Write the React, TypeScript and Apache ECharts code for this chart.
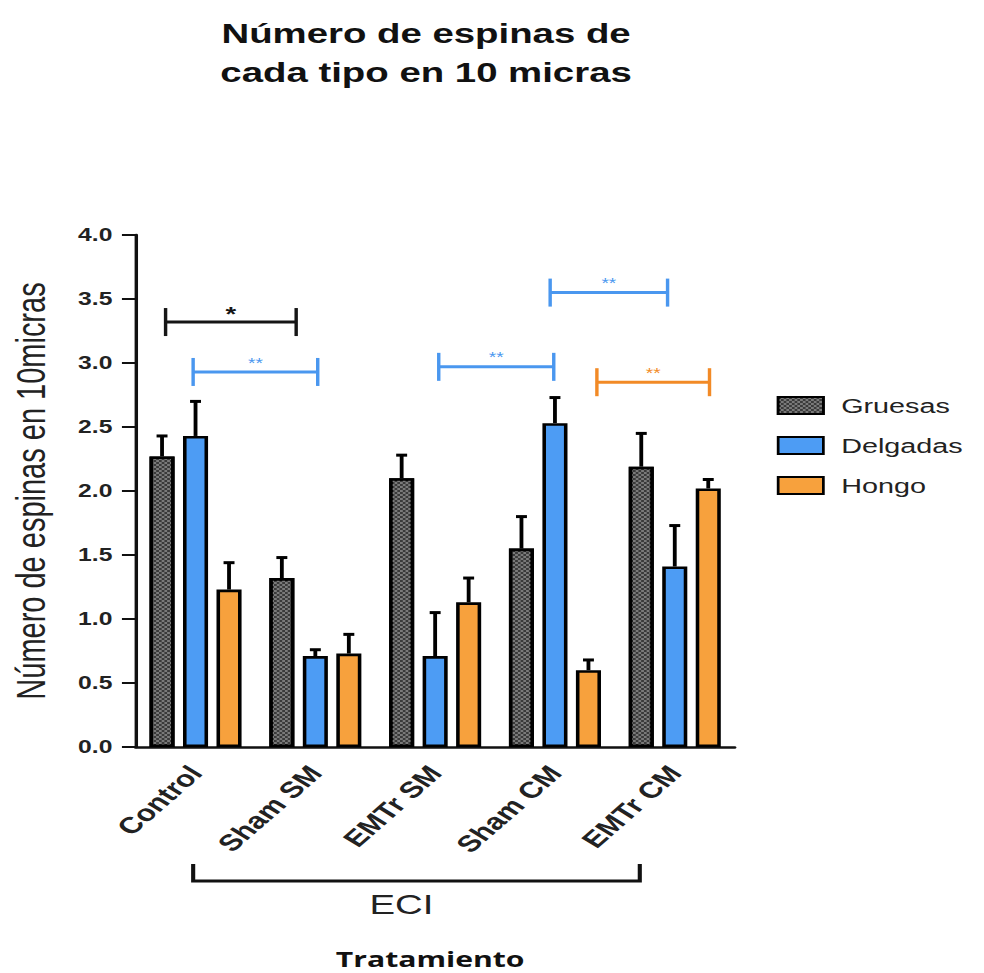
import React, { useEffect, useRef } from "react";
import * as echarts from "echarts";

// Mean number of spines per 10 µm, by spine type and treatment group
const categories = ["Control", "Sham SM", "EMTr SM", "Sham CM", "EMTr CM"];
const seriesNames = ["Gruesas", "Delgadas", "Hongo"];
const gruesas = [2.27, 1.32, 2.1, 1.55, 2.19];
const gruesasSem = [0.16, 0.16, 0.18, 0.25, 0.26];
const delgadas = [2.43, 0.71, 0.71, 2.53, 1.41];
const delgadasSem = [0.27, 0.05, 0.34, 0.2, 0.32];
const hongo = [1.23, 0.73, 1.13, 0.6, 2.02];
const hongoSem = [0.21, 0.15, 0.19, 0.08, 0.07];

// Significance brackets: ends in category units, height in axis units
const bracketFrom = [-0.25, -0.02, 2.03, 2.96, 3.35];
const bracketTo = [0.84, 1.02, 2.99, 3.94, 4.29];
const bracketY = [3.32, 2.93, 2.97, 3.55, 2.85];
const bracketMark = ["*", "**", "**", "**", "**"];
const bracketKind = [0, 1, 1, 1, 2];

const FONT = '"Liberation Sans", Arial, Helvetica, sans-serif';
const STRETCH = 1.37;
const CHART_W = 984 / STRETCH;
const CHART_H = 973;

const fills = ["#3a3a3a", "#4d9cf4", "#f7a13d"];
const bracketColors = ["#161616", "#4a97ef", "#f28a26"];

// bar border is drawn inside the bar, so BAR_W is the full visual width
const BAR_W = 18.3;
const BAR_GAP = 0.336;
const BAR_STEP = BAR_W * (1 + BAR_GAP);

function errorSeries(values: number[], sems: number[], k: number) {
  return {
    type: "custom",
    z: 5,
    silent: true,
    data: values.map((v, i) => [i, v, sems[i]]),
    encode: { x: 0, y: 1 },
    renderItem: (params: any, api: any) => {
      const idx = api.value(0);
      const v = api.value(1);
      const e = api.value(2);
      const base = api.coord([idx, v]);
      const top = api.coord([idx, v + e]);
      const x = base[0] + (k - 1) * BAR_STEP;
      return {
        type: "group",
        children: [
          {
            type: "line",
            shape: { x1: x, y1: base[1], x2: x, y2: top[1] },
            style: { stroke: "#000", lineWidth: 2.8 },
          },
          {
            type: "line",
            shape: { x1: x - 4, y1: top[1], x2: x + 4, y2: top[1] },
            style: { stroke: "#000", lineWidth: 3 },
          },
        ],
      };
    },
  };
}

function barSeries(name: string, values: number[], k: number) {
  const itemStyle: any = {
    color: fills[k],
    borderColor: "#000",
    borderWidth: 2.6,
  };
  if (k === 0) {
    itemStyle.decal = {
      symbol: "rect",
      symbolSize: 1,
      color: "#7a7a7a",
      dashArrayX: [
        [2, 2],
        [0, 2, 2, 0],
      ],
      dashArrayY: [2, 0],
    };
  }
  return {
    name,
    type: "bar",
    data: values,
    barWidth: BAR_W,
    barGap: BAR_GAP * 100 + "%",
    itemStyle,
    emphasis: { disabled: true },
  };
}

export default function App() {
  const ref = useRef<HTMLDivElement>(null);

  useEffect(() => {
    if (!ref.current) return;
    const chart = echarts.init(ref.current, undefined, { renderer: "svg" });

    const option: any = {
      animation: false,
      backgroundColor: "#ffffff",
      textStyle: { fontFamily: FONT },
      grid: {
        left: 92.7,
        right: CHART_W - 536.5,
        top: 235,
        bottom: CHART_H - 747,
        containLabel: false,
      },
      legend: {
        orient: "vertical",
        left: 562,
        top: 390,
        itemWidth: 33,
        itemHeight: 17,
        itemGap: 19,
        icon: "rect",
        selectedMode: false,
        data: seriesNames,
        textStyle: {
          fontFamily: FONT,
          fontSize: 21,
          color: "#222",
          padding: [0, 0, 0, 8],
        },
      },
      xAxis: {
        type: "category",
        data: categories,
        axisLine: { lineStyle: { color: "#111", width: 2.5 } },
        axisTick: {
          alignWithLabel: true,
          length: 8,
          lineStyle: { color: "#111", width: 2 },
        },
        axisLabel: {
          interval: 0,
          rotate: 50,
          margin: 22,
          fontFamily: FONT,
          fontWeight: "bold",
          fontSize: 23,
          color: "#222",
        },
      },
      yAxis: {
        type: "value",
        min: 0,
        max: 4,
        interval: 0.5,
        name: "Número de espinas en 10micras",
        nameLocation: "middle",
        nameRotate: 90,
        nameGap: 62,
        nameTextStyle: { fontFamily: FONT, fontSize: 29, color: "#222" },
        splitLine: { show: false },
        axisLine: { show: true, lineStyle: { color: "#111", width: 2.5 } },
        axisTick: {
          show: true,
          length: 10,
          lineStyle: { color: "#111", width: 2 },
        },
        axisLabel: {
          margin: 17,
          fontFamily: FONT,
          fontWeight: "bold",
          fontSize: 18,
          color: "#222",
          formatter: (v: number) => v.toFixed(1),
        },
      },
      series: [
        barSeries(seriesNames[0], gruesas, 0),
        barSeries(seriesNames[1], delgadas, 1),
        barSeries(seriesNames[2], hongo, 2),
        errorSeries(gruesas, gruesasSem, 0),
        errorSeries(delgadas, delgadasSem, 1),
        errorSeries(hongo, hongoSem, 2),
        {
          type: "custom",
          z: 6,
          silent: true,
          data: bracketY.map((y) => [0, y]),
          encode: { x: 0, y: 1 },
          renderItem: (params: any, api: any) => {
            const i = params.dataIndex;
            const origin = api.coord([0, api.value(1)]);
            const band = api.size([1, 0])[0];
            const x1 = origin[0] + bracketFrom[i] * band;
            const x2 = origin[0] + bracketTo[i] * band;
            const yy = origin[1];
            const h = 14;
            const color = bracketColors[bracketKind[i]];
            const big = bracketMark[i] === "*";
            return {
              type: "group",
              children: [
                {
                  type: "line",
                  shape: { x1, y1: yy, x2, y2: yy },
                  style: { stroke: color, lineWidth: 3 },
                },
                {
                  type: "line",
                  shape: { x1, y1: yy - h, x2: x1, y2: yy + h },
                  style: { stroke: color, lineWidth: 2.5 },
                },
                {
                  type: "line",
                  shape: { x1: x2, y1: yy - h, x2: x2, y2: yy + h },
                  style: { stroke: color, lineWidth: 2.5 },
                },
                {
                  type: "text",
                  x: (x1 + x2) / 2,
                  y: big ? yy + 2 : yy - 2,
                  style: {
                    text: bracketMark[i],
                    align: "center",
                    verticalAlign: "bottom",
                    textAlign: "center",
                    textVerticalAlign: "bottom",
                    fill: color,
                    fontFamily: FONT,
                    fontWeight: big ? "bold" : "normal",
                    fontSize: big ? 20 : 14,
                  },
                },
              ],
            };
          },
        },
      ],
      graphic: [
        {
          type: "text",
          x: 311,
          y: 14,
          style: {
            text: "Número de espinas de\ncada tipo en 10 micras",
            align: "center",
            verticalAlign: "top",
            textAlign: "center",
            textVerticalAlign: "top",
            fontFamily: FONT,
            fontWeight: "bold",
            fontSize: 28,
            lineHeight: 39,
            fill: "#111",
          },
        },
        {
          type: "polyline",
          shape: {
            points: [
              [141, 864],
              [141, 881],
              [467, 881],
              [467, 864],
            ],
          },
          style: { stroke: "#111", lineWidth: 3, fill: null },
        },
        {
          type: "text",
          x: 293,
          y: 904,
          style: {
            text: "ECI",
            align: "center",
            verticalAlign: "middle",
            textAlign: "center",
            textVerticalAlign: "middle",
            fontFamily: FONT,
            fontSize: 28,
            fill: "#222",
          },
        },
        {
          type: "text",
          x: 314,
          y: 959,
          style: {
            text: "Tratamiento",
            align: "center",
            verticalAlign: "middle",
            textAlign: "center",
            textVerticalAlign: "middle",
            fontFamily: '"Open Sans", "Liberation Sans", Arial, sans-serif',
            fontWeight: "bold",
            fontSize: 22,
            fill: "#111",
          },
        },
      ],
    };

    chart.setOption(option);
    return () => chart.dispose();
  }, []);

  return (
    <div
      ref={ref}
      style={{
        position: "fixed",
        left: 0,
        top: 0,
        width: CHART_W,
        height: CHART_H,
        transform: `scaleX(${STRETCH})`,
        transformOrigin: "0 0",
        background: "#fff",
      }}
    />
  );
}
